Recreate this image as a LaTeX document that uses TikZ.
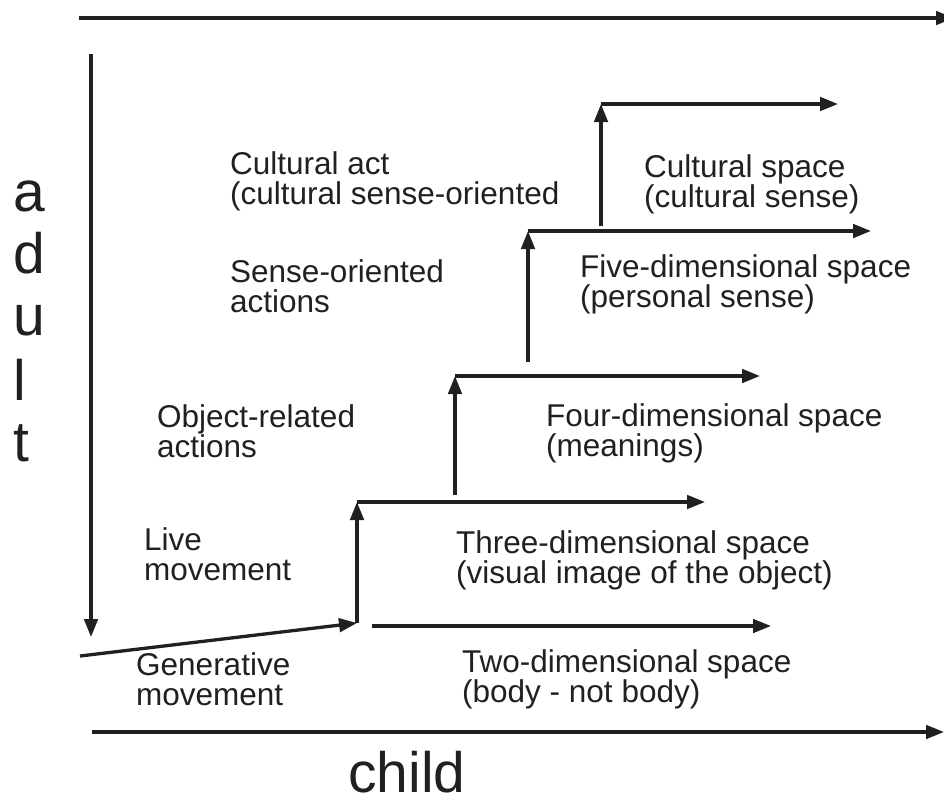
\documentclass[tikz,border=0pt]{standalone}
\usepackage{fontspec}
\setmainfont{Liberation Sans}
\usetikzlibrary{arrows.meta}
\definecolor{ink}{HTML}{231F20}
\newcommand{\twoline}[2]{\vtop{\hbox{#1}\hbox{#2}}}
\begin{document}
\begin{tikzpicture}[x=1pt,y=-1pt,
  arr/.style={draw=ink, line width=3.3pt, -{Triangle[length=18pt,width=13.5pt]}},
  lbl/.style={anchor=base west, inner sep=0pt, text=ink, font=\fontsize{31.5}{30}\selectfont},
  axl/.style={anchor=base west, inner sep=0pt, text=ink, font=\fontsize{57}{60}\selectfont}]
\useasboundingbox (0,0) rectangle (944,801);

% coordinates
\coordinate (topL) at (79,18);   \coordinate (topR) at (954,18);
\coordinate (adT) at (91,54);    \coordinate (adB) at (91,637);
\coordinate (genS) at (80,656);  \coordinate (genE) at (357,623);
\coordinate (v1t) at (357,502);  \coordinate (h1e) at (705,502);
\coordinate (h0s) at (372,626);  \coordinate (h0e) at (771,626);
\coordinate (v2b) at (455,495);  \coordinate (v2t) at (455,376); \coordinate (h2e) at (760,376);
\coordinate (v3b) at (528,362);  \coordinate (v3t) at (528,231); \coordinate (h3e) at (871,231);
\coordinate (v4b) at (601,226);  \coordinate (v4t) at (601,104); \coordinate (h4e) at (838,104);
\coordinate (botL) at (92,732);  \coordinate (botR) at (944,732);

% arrows
\draw[arr] (topL) -- (topR);
\draw[arr] (adT) -- (adB);
\draw[arr] (genS) -- (genE);
\draw[arr] (genE) -- (v1t);
\draw[arr] (v1t) -- (h1e);
\draw[arr] (h0s) -- (h0e);
\draw[arr] (v2b) -- (v2t);
\draw[arr] (v2t) -- (h2e);
\draw[arr] (v3b) -- (v3t);
\draw[arr] (v3t) -- (h3e);
\draw[arr] (v4b) -- (v4t);
\draw[arr] (v4t) -- (h4e);
\draw[arr] (botL) -- (botR);

% labels
\node[lbl] (cact) at (230,174) {\twoline{Cultural act}{(cultural sense-oriented}};
\node[lbl] (sens) at (230,282) {\twoline{Sense-oriented}{actions}};
\node[lbl] (obj)  at (157,427) {\twoline{Object-related}{actions}};
\node[lbl] (live) at (144,550) {\twoline{Live}{movement}};
\node[lbl] (gen)  at (136,675) {\twoline{Generative}{movement}};
\node[lbl] (two)  at (462,672) {\twoline{Two-dimensional space}{(body - not body)}};
\node[lbl] (three) at (456,553) {\twoline{Three-dimensional space}{(visual image of the object)}};
\node[lbl] (four) at (546,426) {\twoline{Four-dimensional space}{(meanings)}};
\node[lbl] (five) at (580,277) {\twoline{Five-dimensional space}{(personal sense)}};
\node[lbl] (cult) at (644,177) {\twoline{Cultural space}{(cultural sense)}};

% axis labels
\node[axl] (child) at (348,792) {child};
\node[axl] (ada) at (13,211) {a};
\node[axl] (add) at (13,273) {d};
\node[axl] (adu) at (13,335) {u};
\node[axl] (adl) at (13,400) {l};
\node[axl] (adt) at (13,461) {t};
\end{tikzpicture}
\end{document}
